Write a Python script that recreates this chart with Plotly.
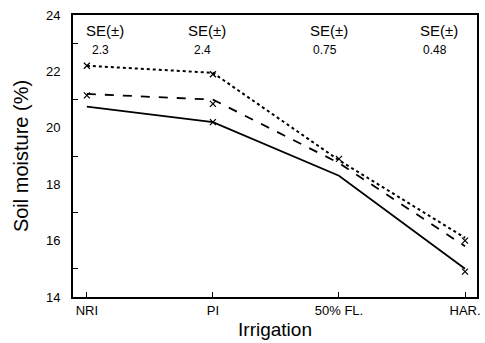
import plotly.graph_objects as go

# Irrigation stages and soil moisture (%) for three treatments
stages = ["NRI", "PI", "50% FL.", "HAR."]
solid_vals = [20.75, 20.2, 18.3, 15.0]
dashed_vals = [21.2, 21.0, 18.75, 15.8]
dotted_vals = [22.2, 21.95, 18.85, 16.1]

# standard errors printed over each stage
se_labels = ["2.3", "2.4", "0.75", "0.48"]

# points marked with an "x"
mark_x = [0, 0, 1, 1, 2, 3, 3]
mark_y = [22.2, 21.15, 21.9, 20.85, 18.9, 16.0, 14.9]
mark_solid_x = [1]
mark_solid_y = [20.2]

xpos = list(range(len(stages)))
font = "Liberation Sans, Arial, Helvetica, sans-serif"

fig = go.Figure()
fig.add_trace(go.Scatter(x=xpos, y=solid_vals, mode="lines",
                         line=dict(color="black", width=1.8, dash="solid")))
fig.add_trace(go.Scatter(x=xpos, y=dashed_vals, mode="lines",
                         line=dict(color="black", width=1.8, dash="dash")))
fig.add_trace(go.Scatter(x=xpos, y=dotted_vals, mode="lines",
                         line=dict(color="black", width=2, dash="dot")))
fig.add_trace(go.Scatter(x=mark_x + mark_solid_x, y=mark_y + mark_solid_y, mode="markers",
                         marker=dict(symbol="x-thin-open", size=6, color="black",
                                     line=dict(color="black", width=1.2))))

# SE annotations
se_x = [0.14, 0.95, 1.92, 2.79]
for xv, lab in zip(se_x, se_labels):
    fig.add_annotation(x=xv, y=23.45, text="SE(±)", showarrow=False,
                       font=dict(family=font, size=15, color="black"))
    fig.add_annotation(x=xv - 0.03, y=22.75, text=lab, showarrow=False,
                       font=dict(family=font, size=12, color="black"))

fig.update_layout(
    width=485, height=343,
    margin=dict(l=73, r=5, t=15, b=46),
    paper_bgcolor="white", plot_bgcolor="white",
    showlegend=False,
    xaxis=dict(
        range=[-0.11, 3.095],
        tickvals=xpos, ticktext=stages,
        ticks="inside", ticklen=5, tickcolor="black",
        showline=True, linecolor="black", linewidth=2, mirror=True,
        showgrid=False, zeroline=False,
        tickfont=dict(family=font, size=13, color="black"),
        title=dict(text="Irrigation", standoff=6,
                   font=dict(family=font, size=19, color="black")),
    ),
    yaxis=dict(
        range=[14, 24],
        tickvals=[14, 16, 18, 20, 22, 24],
        ticks="", showline=True, linecolor="black", linewidth=2, mirror=True,
        showgrid=False, zeroline=False,
        minor=dict(tickvals=[15, 17, 19, 21, 23], ticks="inside", ticklen=5,
                   tickcolor="black", showgrid=False),
        tickfont=dict(family=font, size=13, color="black"),
        ticklabelstandoff=8,
        title=dict(text="Soil moisture (%)", standoff=12,
                   font=dict(family=font, size=20, color="black")),
    ),
)

fig.write_html("out.html")
